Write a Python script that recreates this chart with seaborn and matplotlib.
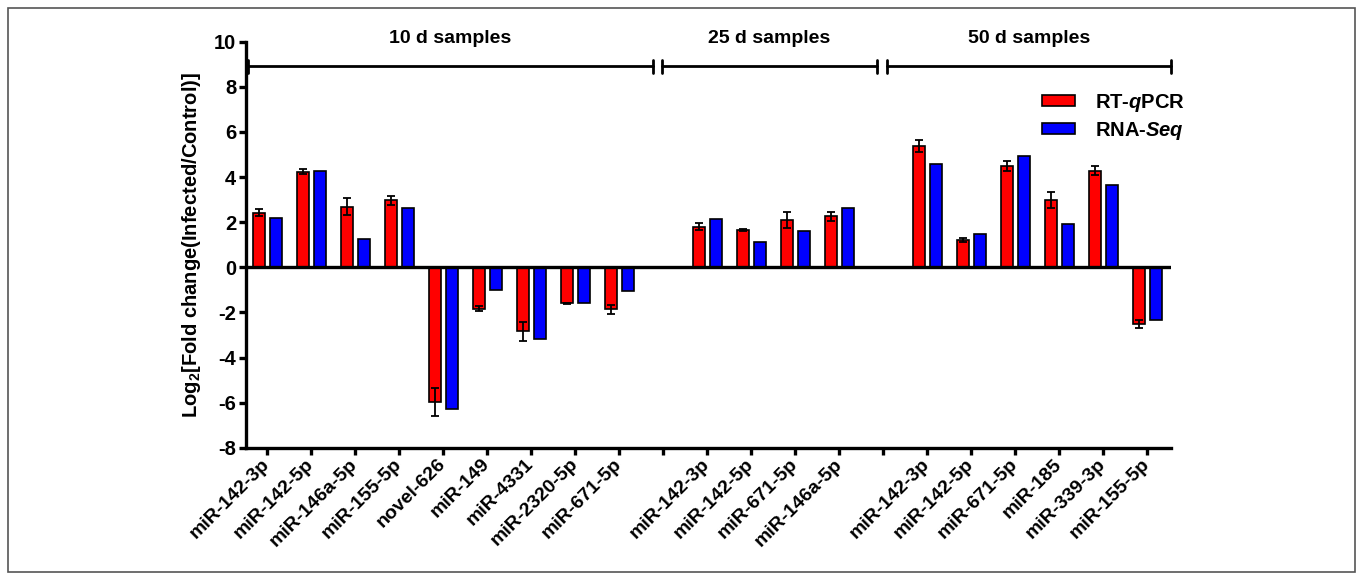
import numpy as np
import pandas as pd
import seaborn as sns
import matplotlib
matplotlib.use("Agg")
import matplotlib.pyplot as plt
from matplotlib.patches import Rectangle

# ---------------- data ----------------
group_names = ["10 d samples", "25 d samples", "50 d samples"]

labels_10d = ["miR-142-3p", "miR-142-5p", "miR-146a-5p", "miR-155-5p", "novel-626",
              "miR-149", "miR-4331", "miR-2320-5p", "miR-671-5p"]
qpcr_10d = [2.42, 4.24, 2.69, 2.97, -5.96, -1.83, -2.84, -1.60, -1.86]
qpcr_err_10d = [0.15, 0.12, 0.37, 0.20, 0.63, 0.10, 0.41, 0.04, 0.20]
seq_10d = [2.19, 4.28, 1.25, 2.64, -6.27, -1.02, -3.16, -1.60, -1.05]

labels_25d = ["miR-142-3p", "miR-142-5p", "miR-671-5p", "miR-146a-5p"]
qpcr_25d = [1.80, 1.66, 2.08, 2.27]
qpcr_err_25d = [0.16, 0.05, 0.35, 0.20]
seq_25d = [2.12, 1.11, 1.63, 2.62]

labels_50d = ["miR-142-3p", "miR-142-5p", "miR-671-5p", "miR-185", "miR-339-3p", "miR-155-5p"]
qpcr_50d = [5.38, 1.20, 4.50, 2.99, 4.28, -2.52]
qpcr_err_50d = [0.25, 0.10, 0.22, 0.34, 0.19, 0.17]
seq_50d = [4.60, 1.49, 4.94, 1.93, 3.64, -2.33]

methods = ["RT-qPCR", "RNA-Seq"]
colors = {"RT-qPCR": "#ff0000", "RNA-Seq": "#0000ff"}

groups = [
    (labels_10d, qpcr_10d, qpcr_err_10d, seq_10d),
    (labels_25d, qpcr_25d, qpcr_err_25d, seq_25d),
    (labels_50d, qpcr_50d, qpcr_err_50d, seq_50d),
]

# ---------------- build table ----------------
order, tick_labels, rows, err_by_slot = [], [], [], {}
for gi, (labs, q, qe, s) in enumerate(groups):
    if gi > 0:
        order.append(f"gap{gi}")
        tick_labels.append("")
    for lab, qv, ev, sv in zip(labs, q, qe, s):
        key = f"{group_names[gi]}|{lab}"
        err_by_slot[len(order)] = ev
        order.append(key)
        tick_labels.append(lab)
        rows.append({"x": key, "method": "RT-qPCR", "value": qv})
        rows.append({"x": key, "method": "RNA-Seq", "value": sv})
df = pd.DataFrame(rows)

# ---------------- style ----------------
sns.set_theme(style="white")
plt.rcParams["font.family"] = ["Liberation Sans", "DejaVu Sans"]
plt.rcParams["font.weight"] = "bold"
plt.rcParams["axes.unicode_minus"] = False
plt.rcParams["mathtext.fontset"] = "custom"
plt.rcParams["mathtext.rm"] = "Liberation Sans:bold"
plt.rcParams["mathtext.it"] = "Liberation Sans:bold:italic"
plt.rcParams["mathtext.bf"] = "Liberation Sans:bold"
for k in ["text.color", "axes.labelcolor", "xtick.color", "ytick.color", "axes.edgecolor"]:
    plt.rcParams[k] = "black"

W, H = 1357, 577
fig = plt.figure(figsize=(W / 100, H / 100), dpi=100)
ax_left, ax_right, ax_top, ax_bottom = 246, 1171, 41.7, 447.8
ax = fig.add_axes([ax_left / W, 1 - ax_bottom / H, (ax_right - ax_left) / W, (ax_bottom - ax_top) / H])

sns.barplot(data=df, x="x", y="value", hue="method", order=order, hue_order=methods,
            palette=colors, saturation=1, width=0.78, gap=0.3, edgecolor="black",
            linewidth=1.2, errorbar=None, ax=ax, legend=True, zorder=2)

# error bars (RT-qPCR only)
xs, ys, es = [], [], []
for p in ax.containers[0]:
    cx = p.get_x() + p.get_width() / 2
    xs.append(cx)
    ys.append(p.get_y() + p.get_height())
    es.append(err_by_slot[int(round(cx))])
ax.errorbar(xs, ys, yerr=es, fmt="none", ecolor="black", elinewidth=1.3,
            capsize=3, capthick=1.3, zorder=3)

ax.axhline(0, color="black", lw=2.4, zorder=4)

ax.set_xlim(-0.48, 20.54)
ax.set_ylim(-8, 10)
ax.set_yticks(np.arange(-8, 11, 2))
ax.set_yticklabels([str(v) for v in range(-8, 11, 2)], fontsize=14.5, fontweight="bold")
ax.set_xticks(range(len(order)))
ax.set_xticklabels(tick_labels, rotation=45, ha="right", va="center",
                   rotation_mode="anchor", fontsize=14, fontweight="bold")
ax.tick_params(axis="both", direction="out", length=5, width=2.4, color="black",
               bottom=True, left=True, pad=2)
ax.tick_params(axis="x", pad=5)
for side in ["top", "right"]:
    ax.spines[side].set_visible(False)
for side in ["left", "bottom"]:
    ax.spines[side].set_linewidth(2.4)
    ax.spines[side].set_color("black")
ax.set_xlabel("")
ax.set_ylabel("Log$_2$[Fold change(Infected/Control)]", fontsize=14.5, fontweight="bold")
ax.yaxis.set_label_coords(-0.047, 0.5)

# group brackets
bracket_starts = [-0.44, 8.97, 14.08]
bracket_ends = [8.76, 13.86, 20.54]
by, cap = 8.92, 0.29
for name, x0, x1 in zip(group_names, bracket_starts, bracket_ends):
    ax.plot([x0, x1], [by, by], color="black", lw=2.0, clip_on=False, zorder=5)
    for xx in (x0, x1):
        ax.plot([xx, xx], [by - cap, by + cap], color="black", lw=2.0, clip_on=False, zorder=5)
    ax.text((x0 + x1) / 2, 9.93, name, ha="center", va="baseline", fontsize=14,
            fontweight="bold", clip_on=False)

# legend
handles, _ = ax.get_legend_handles_labels()
ax.legend(handles, ["RT-$q$PCR", "RNA-$Seq$"], loc="upper left",
          bbox_to_anchor=(0.861, 0.877), frameon=False, fontsize=14.5,
          handlelength=1.64, handleheight=0.5, handletextpad=0.95,
          labelspacing=0.3, borderpad=0, borderaxespad=0)

# outer frame
fig.patches.append(Rectangle((8 / W, 1 - 572 / H), (1355 - 8) / W, (572 - 8) / H,
                             transform=fig.transFigure, fill=False,
                             edgecolor="#555555", lw=1.2))

fig.savefig("out.png", dpi=100, facecolor="white")
